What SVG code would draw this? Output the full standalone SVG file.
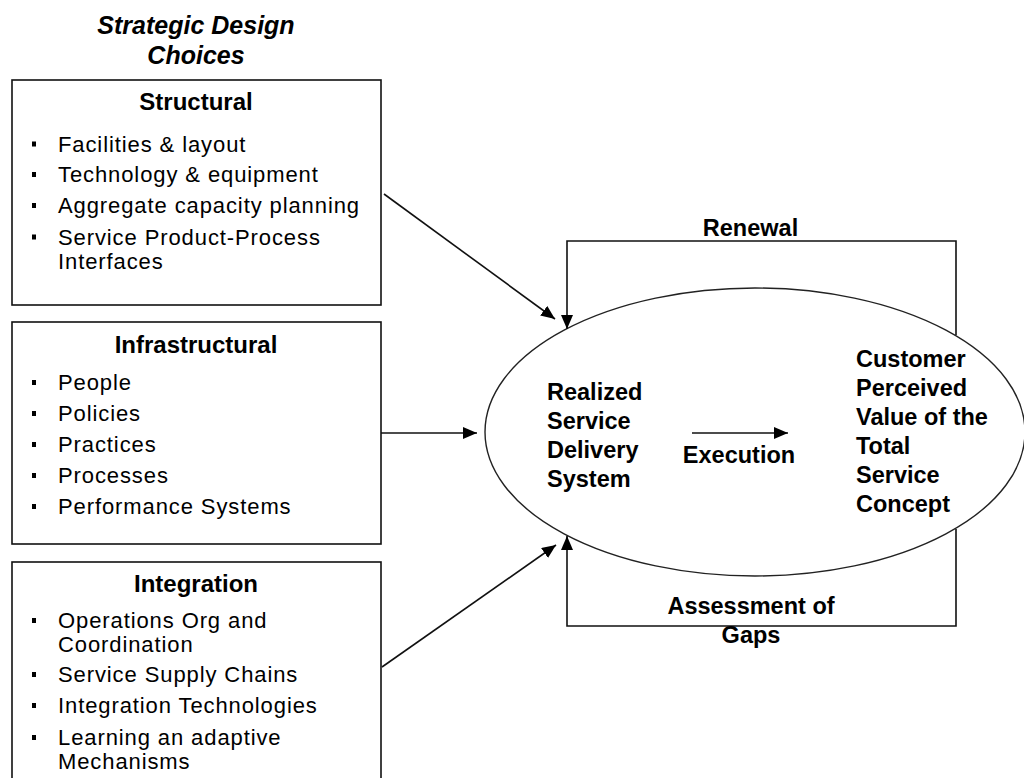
<svg xmlns="http://www.w3.org/2000/svg" width="1024" height="778" viewBox="0 0 1024 778">
<style>
text{font-family:"Liberation Sans",Arial,sans-serif;fill:#000}
.t{font-size:25px;font-weight:bold;font-style:italic;text-anchor:middle}
.h{font-size:24px;font-weight:bold;text-anchor:middle}
.b{font-size:22px;letter-spacing:0.9px}
.e{font-size:23.5px;font-weight:bold}
.box{fill:#fff;stroke:#111;stroke-width:1.6}
.bul{fill:#000}
.c{fill:none;stroke:#111;stroke-width:1.6}
</style>
<defs>
<marker id="ah" viewBox="0 0 14 12" refX="14" refY="6" markerWidth="14" markerHeight="12" markerUnits="userSpaceOnUse" orient="auto">
<path d="M0,0 L14,6 L0,12 z" fill="#000"/>
</marker>
</defs>
<g id="title">
<text class="t" x="196" y="34">Strategic Design</text>
<text class="t" x="196" y="64">Choices</text>
</g>
<g id="structural">
<rect class="box" x="12" y="80" width="369" height="225"/>
<text class="h" x="196" y="110">Structural</text>
<rect class="bul" x="32" y="141.5" width="4" height="5"/>
<text class="b" x="58" y="151.5">Facilities &amp; layout</text>
<rect class="bul" x="32" y="172" width="4" height="5"/>
<text class="b" x="58" y="182">Technology &amp; equipment</text>
<rect class="bul" x="32" y="203" width="4" height="5"/>
<text class="b" x="58" y="213">Aggregate capacity planning</text>
<rect class="bul" x="32" y="234.5" width="4" height="5"/>
<text class="b" x="58" y="244.5">Service Product-Process</text>
<text class="b" x="58" y="268.5">Interfaces</text>
</g>
<g id="infrastructural">
<rect class="box" x="12" y="322" width="369" height="222"/>
<text class="h" x="196" y="353">Infrastructural</text>
<rect class="bul" x="32" y="380" width="4" height="5"/>
<text class="b" x="58" y="390">People</text>
<rect class="bul" x="32" y="411" width="4" height="5"/>
<text class="b" x="58" y="421">Policies</text>
<rect class="bul" x="32" y="442" width="4" height="5"/>
<text class="b" x="58" y="452">Practices</text>
<rect class="bul" x="32" y="473" width="4" height="5"/>
<text class="b" x="58" y="483">Processes</text>
<rect class="bul" x="32" y="504" width="4" height="5"/>
<text class="b" x="58" y="514">Performance Systems</text>
</g>
<g id="integration">
<rect class="box" x="12" y="562" width="369" height="240"/>
<text class="h" x="196" y="592">Integration</text>
<rect class="bul" x="32" y="618" width="4" height="5"/>
<text class="b" x="58" y="628">Operations Org and</text>
<text class="b" x="58" y="652">Coordination</text>
<rect class="bul" x="32" y="672" width="4" height="5"/>
<text class="b" x="58" y="682">Service Supply Chains</text>
<rect class="bul" x="32" y="703" width="4" height="5"/>
<text class="b" x="58" y="713">Integration Technologies</text>
<rect class="bul" x="32" y="735" width="4" height="5"/>
<text class="b" x="58" y="745">Learning an adaptive</text>
<text class="b" x="58" y="769">Mechanisms</text>
</g>
<g id="service-ellipse">
<ellipse cx="755" cy="432" rx="270" ry="144" fill="#fff" stroke="#222" stroke-width="1.4"/>
<text class="e" x="547" y="400">Realized</text>
<text class="e" x="547" y="429">Service</text>
<text class="e" x="547" y="458">Delivery</text>
<text class="e" x="547" y="487">System</text>
<text class="e" x="856" y="367">Customer</text>
<text class="e" x="856" y="396">Perceived</text>
<text class="e" x="856" y="425">Value of the</text>
<text class="e" x="856" y="454">Total</text>
<text class="e" x="856" y="483">Service</text>
<text class="e" x="856" y="512">Concept</text>
</g>
<g id="connectors">
<line class="c" x1="384" y1="194" x2="555" y2="319" marker-end="url(#ah)"/>
<line class="c" x1="381" y1="433" x2="477" y2="433" marker-end="url(#ah)"/>
<line class="c" x1="382" y1="667" x2="556" y2="545" marker-end="url(#ah)"/>
<line class="c" x1="692" y1="433" x2="788" y2="433" marker-end="url(#ah)"/>
<polyline class="c" points="956,335 956,241 567,241 567,329" marker-end="url(#ah)"/>
<polyline class="c" points="956,529 956,626 567,626 567,536" marker-end="url(#ah)"/>
<text class="e" x="750.5" y="236" text-anchor="middle">Renewal</text>
<text class="e" x="739" y="463" text-anchor="middle">Execution</text>
<text class="e" x="751" y="614" text-anchor="middle">Assessment of</text>
<text class="e" x="751" y="643" text-anchor="middle">Gaps</text>
</g>
</svg>
